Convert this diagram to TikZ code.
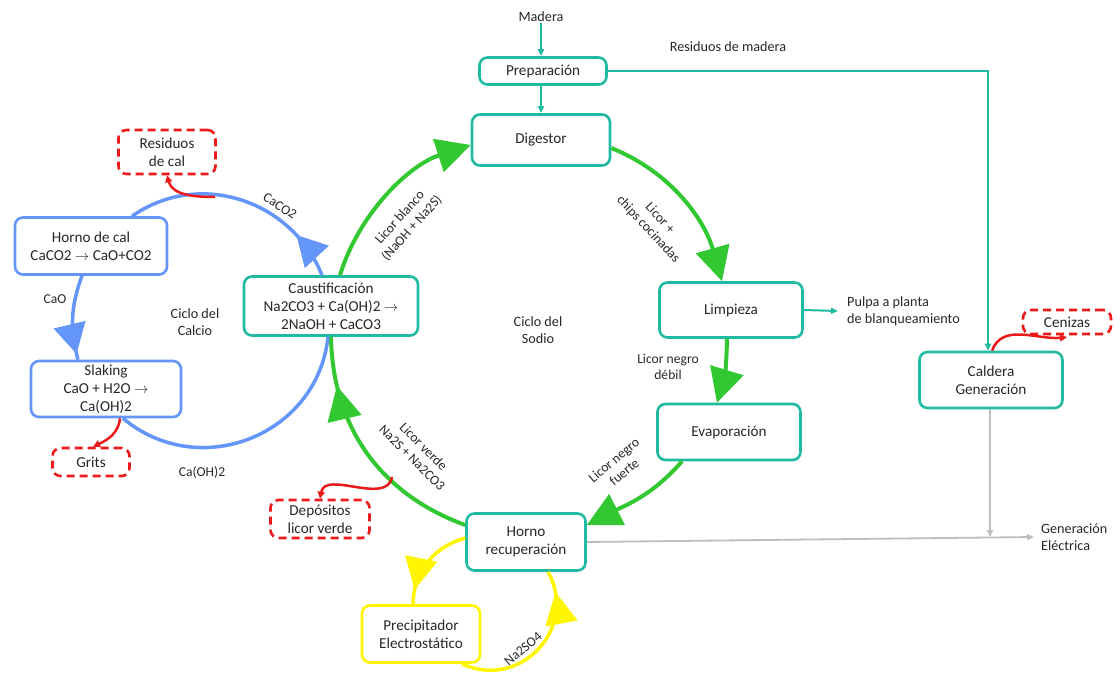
\documentclass[tikz,border=0pt]{standalone}
\usepackage{fontspec}
\setmainfont{Carlito}
\usetikzlibrary{arrows.meta,decorations.markings,calc}
\definecolor{tealc}{RGB}{32,186,160}
\definecolor{grn}{RGB}{50,200,50}
\definecolor{blu}{RGB}{100,150,250}
\definecolor{rd}{RGB}{235,25,25}
\definecolor{yel}{RGB}{255,245,0}
\definecolor{gry}{RGB}{190,190,190}
\definecolor{txt}{RGB}{40,40,40}
\tikzset{
  bigG/.tip={Triangle[length=34pt,width=34pt]},
  bigB/.tip={Triangle[length=30pt,width=32pt]},
  bigY/.tip={Triangle[length=32pt,width=32pt]},
  smallT/.tip={Triangle[length=7pt,width=6pt]},
  smallR/.tip={Triangle[length=7pt,width=7pt]},
  midarrow/.style 2 args={decoration={markings, mark=at position #1 with {\arrow{#2}}}, postaction={decorate}},
  basebox/.style={line width=2.6pt, rounded corners=8pt, fill=white, align=center, inner sep=0pt, text=txt, font=\fontsize{15.2}{18}\selectfont},
  tbox/.style={basebox, draw=tealc},
  bbox/.style={basebox, draw=blu},
  ybox/.style={basebox, draw=yel},
  rbox/.style={basebox, draw=rd, dash pattern=on 8pt off 5pt},
  lbl/.style={font=\fontsize{14.2}{17}\selectfont, text=txt, align=center, inner sep=1pt},
  slbl/.style={font=\fontsize{13.6}{16}\selectfont, text=txt, align=center, inner sep=0.5pt},
  tline/.style={draw=tealc, line width=2pt, -smallT},
  gline/.style={draw=gry, line width=1.8pt, -smallT},
  gl/.style={draw=grn, line width=4pt},
  bl/.style={draw=blu, line width=3.5pt},
  yl/.style={draw=yel, line width=3.5pt},
  rl/.style={draw=rd, line width=2.5pt, -smallR},
}
\begin{document}
\begin{tikzpicture}[x=1pt,y=1pt]
\fill[white] (0,0) rectangle (1120,-680);
\useasboundingbox (0,0) rectangle (1120,-680);

% nodes
\node[lbl] (mad) at (541,-17) {Madera};
\node[tbox, minimum width=127pt, minimum height=27pt] (prep) at (543,-71) {Preparación};
\node[tbox, minimum width=138pt, minimum height=51pt] (dig) at (541,-140) {Digestor};
\node[tbox, minimum width=143pt, minimum height=55pt] (limp) at (731,-310) {Limpieza};
\node[tbox, minimum width=143pt, minimum height=56pt] (evap) at (729,-432) {Evaporación};
\node[tbox, minimum width=119pt, minimum height=57pt] (horno) at (526,-542) {Horno\\recuperación};
\node[tbox, minimum width=174pt, minimum height=59pt] (caust) at (331,-306) {Caustificación\\Na2CO3 + Ca(OH)2 $\rightarrow$\\2NaOH + CaCO3};
\node[bbox, minimum width=152pt, minimum height=57pt] (hcal) at (91,-246) {Horno de cal\\CaCO2 $\rightarrow$ CaO+CO2};
\node[bbox, minimum width=150pt, minimum height=56pt] (slak) at (106,-389) {Slaking\\CaO + H2O $\rightarrow$\\Ca(OH)2};
\node[rbox, minimum width=97pt, minimum height=44pt] (rcal) at (167,-152) {Residuos\\de cal};
\node[rbox, minimum width=77pt, minimum height=28pt] (grits) at (91,-462) {Grits};
\node[rbox, minimum width=99pt, minimum height=38pt] (dep) at (320,-519) {Depósitos\\licor verde};
\node[ybox, minimum width=118pt, minimum height=57pt] (prec) at (421,-634) {Precipitador\\Electrostático};
\node[tbox, minimum width=143pt, minimum height=56pt] (cald) at (991,-380) {Caldera\\Generación};
\node[rbox, minimum width=88pt, minimum height=24pt] (cen) at (1067,-322) {Cenizas};

% texts
\node[lbl] (resmad) at (728,-47) {Residuos de madera};
\node[lbl, anchor=west, align=left] (pulpa) at (846,-311) {Pulpa a planta\\de blanqueamiento};
\node[lbl, anchor=west, align=left] (gen) at (1040,-537) {Generación\\Eléctrica};
\node[lbl] (csod) at (538,-330) {Ciclo del\\Sodio};
\node[lbl] (ccal) at (195,-322) {Ciclo del\\Calcio};
\node[slbl] (cao) at (55,-299) {CaO};
\node[slbl] (caoh) at (202,-472) {Ca(OH)2};
\node[slbl, rotate=-33] (caco) at (280,-206) {CaCO2};
\node[slbl, rotate=48] (lblanco) at (406,-223) {Licor blanco\\(NaOH + Na2S)};
\node[slbl, rotate=-47] (lchips) at (654,-224) {Licor +\\chips cocinadas};
\node[slbl] (lndebil) at (668,-367) {Licor negro\\débil};
\node[slbl, rotate=40] (lnfuerte) at (619,-466) {Licor negro\\fuerte};
\node[slbl, rotate=-45] (lverde) at (418,-452) {Licor verde\\Na2S + Na2CO3};
\node[slbl, rotate=40] (naso) at (523,-649) {Na2SO4};

% teal connectors
\draw[tline] (mad.south) -- (mad.south |- prep.north);
\draw[tline] ([xshift=-2]prep.south) -- (dig.north);
\draw[tline] (prep.east) -| ([xshift=-3]cald.north);
\draw[tline] (limp.east) -- ([xshift=-8]pulpa.west);

% gray connectors
\draw[gline] (horno.east) -- ([xshift=-6]gen.west);
\draw[gline] ([xshift=-1]cald.south) -- ([xshift=-1]cald.south |- gen.west);

% green sodium cycle
\draw[gl, -bigG] ([xshift=9]caust.north) to[out=73,in=198,looseness=0.9] ([yshift=-5]dig.west);
\draw[gl, -bigG] ([yshift=-8]dig.east) to[out=-22,in=106,looseness=0.95] ([xshift=-9]limp.north);
\draw[gl, -bigG] ([xshift=-4]limp.south) to[bend left=8] ([xshift=-12]evap.north);
\draw[gl, -bigG] ([xshift=-47]evap.south) to[out=-131,in=27] ([yshift=17]horno.east);
\draw[gl, midarrow={0.8}{bigG}] ([yshift=17]horno.west) to[out=160,in=-89] (caust.south);

% blue calcium cycle
\draw[bl, midarrow={0.93}{bigB}] ([xshift=-9]hcal.south) to[out=-110,in=105] ([xshift=-28]slak.north);
\draw[bl] ([xshift=17]slak.south) to[out=-40,in=-96,looseness=1.15] ([xshift=-3]caust.south);
\draw[bl, midarrow={0.21}{bigB}] ([xshift=-9]caust.north) to[out=112,in=35,looseness=1.05] ([xshift=41]hcal.north);

% yellow cycle
\draw[yl, midarrow={0.84}{bigY}] ([yshift=4]horno.west) to[out=196,in=89] ([xshift=-8]prec.north);
\draw[yl, midarrow={0.87}{bigY}] ([xshift=41]prec.south) to[out=-25,in=-61,looseness=1.3] ([xshift=22]horno.south);

% red waste connectors
\coordinate (rtop) at (215,-197);
\coordinate (rdep) at (392,-477);
\draw[rl] (rtop) to[out=180,in=-75] (rcal.south);
\draw[rl] ([xshift=14]slak.south) to[out=-95,in=25] ([xshift=2]grits.north);
\draw[rl] (rdep) to[out=-100,in=80] (dep.north);
\draw[rl] ([xshift=1]cald.north) to[out=70,in=185] ([yshift=-2]cen.south);
\end{tikzpicture}
\end{document}
